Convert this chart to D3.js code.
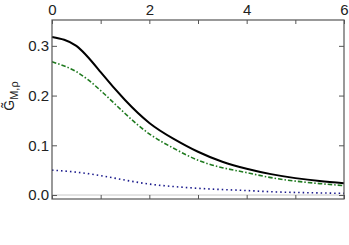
<!DOCTYPE html>
<html><head><meta charset="utf-8">
<script src="https://cdn.jsdelivr.net/npm/d3@7"></script>
<style>body{margin:0;background:#fff}svg{display:block}</style>
</head><body><svg id="c" width="349" height="245"></svg>
<script>
const xs = [0,0.5,1,1.5,2,2.5,3,3.5,4,4.5,5,5.5,6];
const solidSeries = [0.318,0.300,0.247,0.191,0.145,0.113,0.087,0.067,0.053,0.042,0.034,0.028,0.0235];
const dashDotSeries = [0.268,0.248,0.210,0.164,0.123,0.094,0.070,0.055,0.045,0.035,0.028,0.023,0.019];
const dottedSeries = [0.050,0.046,0.039,0.030,0.022,0.017,0.0135,0.011,0.009,0.0066,0.0052,0.0042,0.0033];
const xTickLabels = [0,2,4,6];
const yTickLabels = [0.0,0.1,0.2,0.3];

const svg = d3.select("#c");
const L=52,R=344,T=20,B=199;
const x = d3.scaleLinear().domain([0,6]).range([L,R]);
const y = d3.scaleLinear().domain([-0.008,0.352]).range([B,T]);
const font = "Liberation Sans, Arial, sans-serif";

// zero line
svg.append("line").attr("x1",L).attr("x2",R).attr("y1",y(0)).attr("y2",y(0))
  .attr("stroke","#c8c8c8").attr("stroke-width",1);

const line = d3.line().x((d,i)=>x(xs[i])).y(d=>y(d)).curve(d3.curveNatural);
svg.append("path").datum(dottedSeries).attr("d",line).attr("fill","none")
  .attr("stroke","#1a1a8c").attr("stroke-width",1.6).attr("stroke-dasharray","1.5,3");
svg.append("path").datum(dashDotSeries).attr("d",line).attr("fill","none")
  .attr("stroke","#1f7a1f").attr("stroke-width",1.6).attr("stroke-dasharray","4.5,2,1.5,2");
svg.append("path").datum(solidSeries).attr("d",line).attr("fill","none")
  .attr("stroke","#000").attr("stroke-width",2);

// frame
const axCol="#555";
svg.append("rect").attr("x",L).attr("y",T).attr("width",R-L).attr("height",B-T)
  .attr("fill","none").attr("stroke",axCol).attr("stroke-width",1.2);

const xAllTicks = d3.range(0,7,1);
const gBot = svg.append("g").attr("transform",`translate(0,${B})`)
  .call(d3.axisBottom(x).tickValues(xAllTicks).tickSize(-4).tickFormat(""));
const gTop = svg.append("g").attr("transform",`translate(0,${T})`)
  .call(d3.axisTop(x).tickValues(xAllTicks).tickSize(-4).tickPadding(5)
    .tickFormat(d=>xTickLabels.includes(d)?d3.format("d")(d):""));
const gLeft = svg.append("g").attr("transform",`translate(${L},0)`)
  .call(d3.axisLeft(y).tickValues(yTickLabels).tickSize(-5).tickPadding(3).tickFormat(d3.format(".1f")));
const gRight = svg.append("g").attr("transform",`translate(${R},0)`)
  .call(d3.axisRight(y).tickValues(yTickLabels).tickSize(-5).tickFormat(""));
[gBot,gTop,gLeft,gRight].forEach(g=>{
  g.select(".domain").remove();
  g.selectAll("line").attr("stroke",axCol).attr("stroke-width",1);
  g.selectAll("text").attr("fill","#222").style("font-family",font).style("font-size","15px");
});

// y title
const t = svg.append("text").attr("transform","translate(14,96) rotate(-90)")
  .attr("text-anchor","middle").style("font-family",font).style("font-size","14px").attr("fill","#222");
t.append("tspan").text("G\u0303");
t.append("tspan").attr("dy",4).style("font-size","11px").text("M,\u03C1");
</script></body></html>
